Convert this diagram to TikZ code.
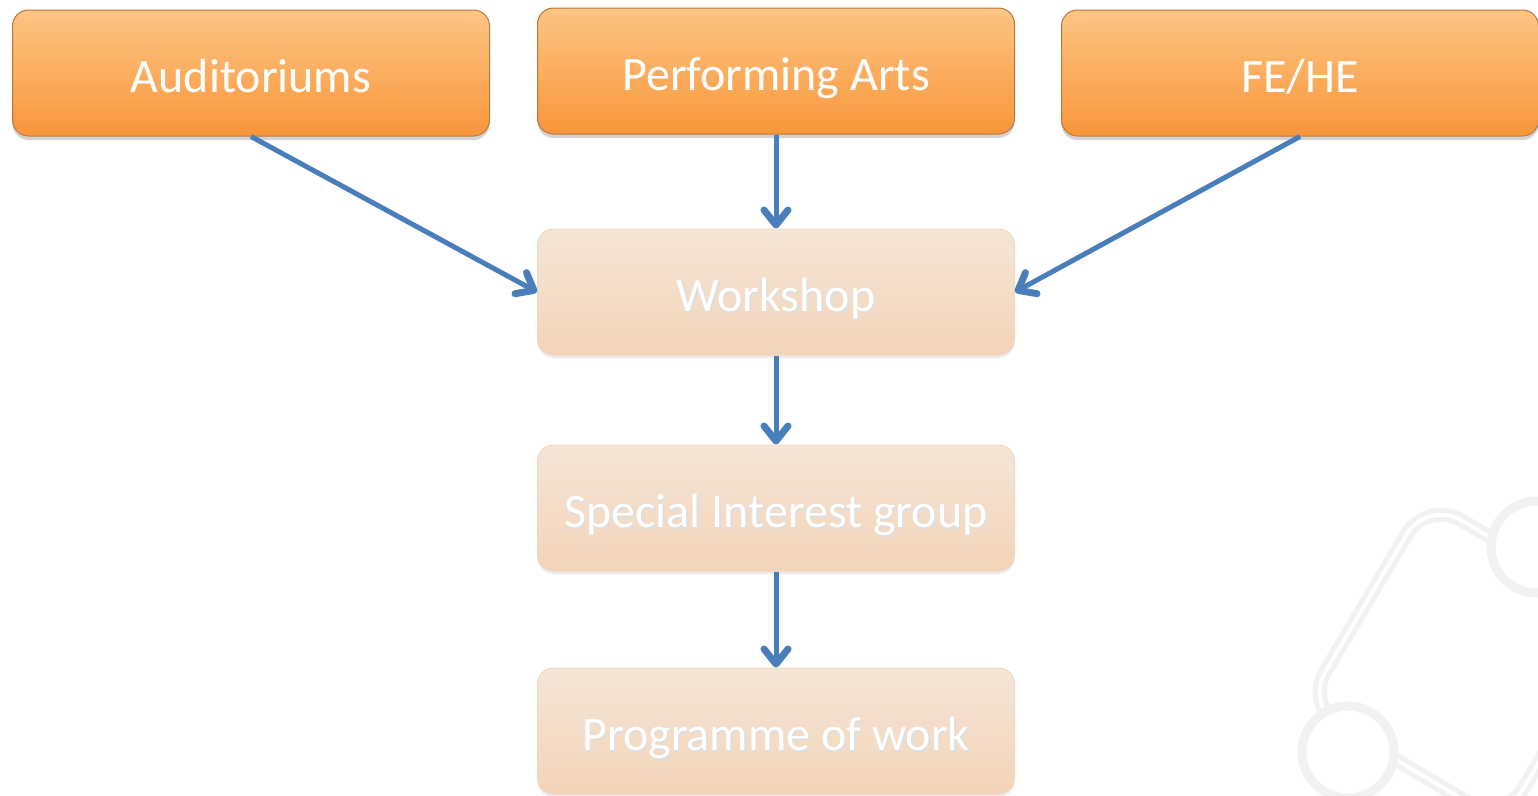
\documentclass[tikz,border=0pt]{standalone}
\usepackage{fontspec}
\setmainfont{Carlito}
\usetikzlibrary{arrows.meta,shadows}
\definecolor{arrowblue}{HTML}{4A7EBB}
\definecolor{orTop}{HTML}{FDC584}
\definecolor{orBot}{HTML}{F9963A}
\definecolor{orEdge}{HTML}{B8783C}
\definecolor{ltTop}{HTML}{F5E6D8}
\definecolor{ltBot}{HTML}{F3D4B8}
\definecolor{ltEdge}{HTML}{F0D8C0}
\definecolor{wmark}{HTML}{F1F1F1}
\newcommand{\shadowtext}[1]{\makebox[0pt][l]{\raisebox{-2pt}{\hspace{1.5pt}\textcolor{black!13}{#1}}}#1}
\tikzset{
  topbox/.style={draw=orEdge, line width=1pt, rounded corners=16pt,
    top color=orTop, bottom color=orBot, minimum width=477pt, minimum height=126pt,
    text=white, font=\fontsize{48}{58}\selectfont, text height=38pt, text depth=0pt,
    drop shadow={shadow xshift=0pt, shadow yshift=-4pt, opacity=0.35}},
  lightbox/.style={draw=ltEdge, line width=1pt, rounded corners=16pt,
    top color=ltTop, bottom color=ltBot, minimum width=477pt, minimum height=126pt,
    text=white, font=\fontsize{48}{58}\selectfont, text height=38pt, text depth=0pt,
    drop shadow={shadow xshift=0pt, shadow yshift=-3pt, opacity=0.15}},
  conn/.style={draw=arrowblue, line width=5pt,
    -{Straight Barb[length=15pt,width=24pt,line width=7pt,round]}}
}
\begin{document}
\begin{tikzpicture}[x=1pt,y=-1pt]
\useasboundingbox (0,0) rectangle (1538,795);
% watermark
\begin{scope}
\clip (0,0) rectangle (1538,795);
\draw[wmark, line width=14pt, rounded corners=40pt] (1427,500) -- (1305,706) -- (1503,823) -- (1625,617) -- cycle;
\draw[white, line width=4pt, rounded corners=40pt] (1427,500) -- (1305,706) -- (1503,823) -- (1625,617) -- cycle;
\draw[wmark, line width=9pt, fill=white] (1537,547) circle (46);
\draw[wmark, line width=9pt, fill=white] (1348,752) circle (46);
\end{scope}
% nodes
\node[topbox] (aud) at (251,73) {Auditoriums};
\node[topbox] (pa) at (776,71) {Performing Arts};
\node[topbox] (fehe) at (1300,73) {FE/HE};
\node[lightbox] (ws) at (776,292) {\shadowtext{Workshop}};
\node[lightbox] (sig) at (776,508) {\shadowtext{Special Interest group}};
\node[lightbox] (pow) at (776,731) {\shadowtext{Programme of work}};
% connectors
\draw[conn] (aud.south) -- (ws.west);
\draw[conn] (pa.south) -- (ws.north);
\draw[conn] (fehe.south) -- (ws.east);
\draw[conn] (ws.south) -- (sig.north);
\draw[conn] (sig.south) -- (pow.north);
\end{tikzpicture}
\end{document}
